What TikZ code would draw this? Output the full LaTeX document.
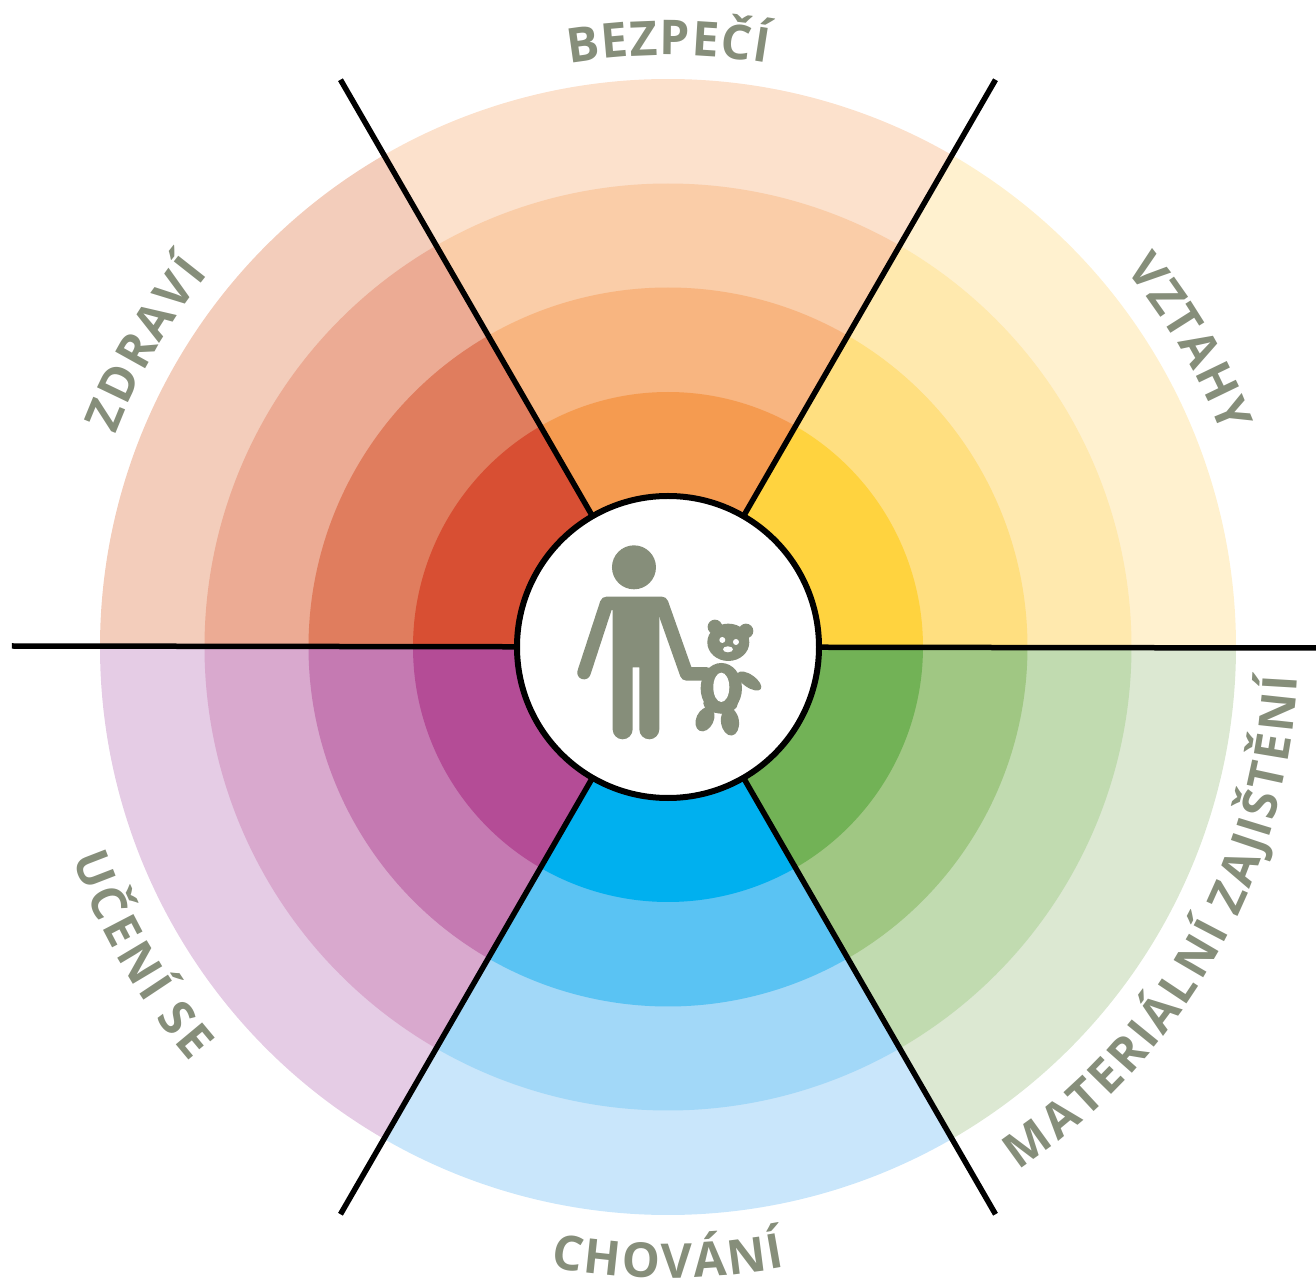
\documentclass[tikz,border=0pt]{standalone}
\usepackage{fontspec}
\setmainfont{Open Sans}
\usetikzlibrary{decorations.text}
\definecolor{ink}{HTML}{868E7A}
\definecolor{oa}{HTML}{F59B50}\definecolor{ob}{HTML}{F8B580}\definecolor{oc}{HTML}{FACDA8}\definecolor{od}{HTML}{FCE1CC}
\definecolor{ya}{HTML}{FFD33F}\definecolor{yb}{HTML}{FFDF80}\definecolor{yc}{HTML}{FFE9AE}\definecolor{yd}{HTML}{FFF1CF}
\definecolor{ra}{HTML}{D84F33}\definecolor{rb}{HTML}{E07D5E}\definecolor{rc}{HTML}{ECAB94}\definecolor{rd}{HTML}{F3CDBB}
\definecolor{pa}{HTML}{B44C96}\definecolor{pb}{HTML}{C57AB2}\definecolor{pc}{HTML}{D9A9CE}\definecolor{pd}{HTML}{E5CCE5}
\definecolor{ba}{HTML}{00B0EF}\definecolor{bb}{HTML}{5AC3F3}\definecolor{bc}{HTML}{A2D8F8}\definecolor{bd}{HTML}{C9E6FB}
\definecolor{ga}{HTML}{72B256}\definecolor{gb}{HTML}{A0C783}\definecolor{gc}{HTML}{C1DBB0}\definecolor{gd}{HTML}{DCE8D2}
\newcommand{\wedgeset}[5]{%
  \fill[#5] (0,0) -- (#1:568) arc[start angle=#1,delta angle=60,radius=568] -- cycle;
  \fill[#4] (0,0) -- (#1:463.5) arc[start angle=#1,delta angle=60,radius=463.5] -- cycle;
  \fill[#3] (0,0) -- (#1:359.5) arc[start angle=#1,delta angle=60,radius=359.5] -- cycle;
  \fill[#2] (0,0) -- (#1:255) arc[start angle=#1,delta angle=60,radius=255] -- cycle;
}
\newcommand{\arclabel}[4]{% start angle, end angle, radius, text
  \path[decorate,decoration={text effects along path,text={#4},
    text effects/.cd,text along path,fit text to path,
    every character/.style={font=\fontsize{48}{48}\selectfont\bfseries,text=ink}}]
    (#1:#3) arc[start angle=#1,end angle=#2,radius=#3];
}
\tikzset{
  spoke/.style={draw=black,line width=5.5pt},
  limb/.style={draw=ink,line cap=round,line join=round},
}
\begin{document}
\begin{tikzpicture}[x=1pt,y=1pt]
\useasboundingbox (-668,-634) rectangle (648,647);
\wedgeset{0}{ya}{yb}{yc}{yd}
\wedgeset{60}{oa}{ob}{oc}{od}
\wedgeset{120}{ra}{rb}{rc}{rd}
\wedgeset{180}{pa}{pb}{pc}{pd}
\wedgeset{240}{ba}{bb}{bc}{bd}
\wedgeset{300}{ga}{gb}{gc}{gd}
\draw[spoke] (-656,1) -- (648,-1);
\draw[spoke] (60:655) -- (240:655);
\draw[spoke] (120:655) -- (300:655);
\node[circle,draw=black,line width=6pt,fill=white,minimum size=302pt,inner sep=0pt] (hub) at (0,0) {};
\arclabel{99.6}{80.4}{592}{BEZPEČÍ}
\arclabel{39.5}{21}{593}{VZTAHY}
\arclabel{159}{141}{592}{ZDRAVÍ}
\arclabel{199.5}{221}{632}{UČENÍ SE}
\arclabel{259.3}{280.7}{631}{CHOVÁNÍ}
\arclabel{303.8}{357.3}{630}{MATERIÁLNÍ ZAJIŠTĚNÍ}
\begin{scope}[shift={(-158,157)},x=0.3333pt,y=-0.3333pt]
  % adult
  \fill[ink] (372,232) circle[radius=66];
  \draw[limb,line width=13.5pt] (222,548) -- (290,340) -- (455,340) -- (530,552) -- (590,552);
  \fill[ink] (308,340) -- (448,340) -- (448,718) arc[start angle=0,end angle=180,radius=30] -- (388,532) -- (368,532) -- (368,718) arc[start angle=0,end angle=180,radius=30] -- cycle;
  % teddy
  \fill[ink] (615,411) circle[radius=22];
  \fill[ink] (708,423) circle[radius=22];
  \fill[ink] (655,457) ellipse[x radius=63,y radius=56];
  \fill[ink] (634,595) ellipse[x radius=62,y radius=76];
  \fill[ink] (632,640) ellipse[x radius=52,y radius=30];
  \fill[ink,rotate around={-35:(718,573)}] (718,573) ellipse[x radius=42,y radius=19];
  \fill[ink,rotate around={-25:(585,688)}] (585,688) ellipse[x radius=26,y radius=38];
  \fill[ink,rotate around={8:(660,695)}] (660,695) ellipse[x radius=27,y radius=42];
  \fill[white] (634,592) ellipse[x radius=24,y radius=44];
  \fill[white] (637,450) circle[radius=9];
  \fill[white] (678,456) circle[radius=9];
  \fill[white] (654,478) ellipse[x radius=15,y radius=9];
\end{scope}
\end{tikzpicture}
\end{document}
